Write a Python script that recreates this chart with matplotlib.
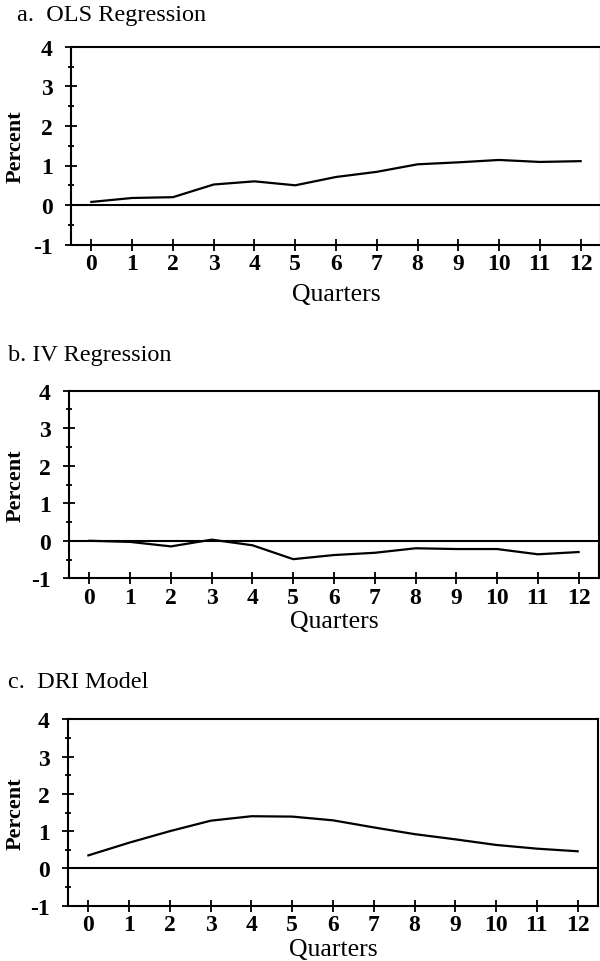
import numpy as np
import matplotlib.pyplot as plt

plt.rcParams['font.family'] = ['Liberation Serif', 'DejaVu Serif']

quarters = list(range(13))
ols = [0.08, 0.18, 0.20, 0.52, 0.60, 0.50, 0.71, 0.84, 1.03, 1.08, 1.14, 1.09, 1.11]
iv = [0.00, -0.03, -0.15, 0.03, -0.12, -0.49, -0.38, -0.32, -0.20, -0.22, -0.22, -0.36, -0.30]
dri = [0.35, 0.69, 1.00, 1.28, 1.40, 1.39, 1.29, 1.10, 0.92, 0.78, 0.63, 0.53, 0.46]

titles = ['a.  OLS Regression', 'b. IV Regression', 'c.  DRI Model']
ytick_vals = [-1, 0, 1, 2, 3, 4]
ytick_text = ['-1', '0', '1', '2', '3', '4']
series = [ols, iv, dri]

W, H = 600, 962
fig = plt.figure(figsize=(W / 100, H / 100), dpi=100)

# pixel boxes: left, top, bottom of each panel (from the scan)
pix = [(71, 47.7, 245.7), (69, 391.7, 579.3), (68, 720.3, 906.7)]
xlab_off = [49, 43, 43]
title_pos = [(17, 15), (8, 356), (8, 683)]

for vals, title, (lft, top, bot), xo, tp in zip(series, titles, pix, xlab_off, title_pos):
    ax = fig.add_axes((lft / W, 1 - bot / H, 530 / W, (bot - top) / H))
    ax.plot(quarters, vals, color='black', lw=1.6)
    ax.axhline(0, color='black', lw=1.5)
    ax.set_xlim(-0.5, 12.5)
    ax.set_ylim(-1, 4)
    ax.set_xticks(quarters)
    ax.set_yticks(ytick_vals)
    ax.set_yticklabels(ytick_text)
    ax.set_yticks(np.arange(-0.5, 4, 1.0), minor=True)
    for s in ax.spines.values():
        s.set_linewidth(1.5)
    ax.tick_params(axis='both', which='major', direction='inout', length=8, width=1.3,
                   labelsize=17)
    ax.tick_params(axis='y', which='minor', direction='inout', length=4, width=1.3)
    ax.tick_params(axis='y', pad=9)
    ax.tick_params(axis='x', pad=2)
    for lab in ax.get_xticklabels() + ax.get_yticklabels():
        lab.set_fontweight('bold')
    ax.set_ylabel('Percent', fontsize=16, fontweight='bold', va='center')
    ax.yaxis.set_label_coords(-(lft - 16) / 530, 0.5)
    ax.set_xlabel('Quarters', fontsize=18.5, va='center')
    ax.xaxis.set_label_coords(0.5, -xo / (bot - top))
    fig.text(tp[0] / W, 1 - tp[1] / H, title, fontsize=17.5, va='center', ha='left')

fig.savefig('out.png', dpi=100)
